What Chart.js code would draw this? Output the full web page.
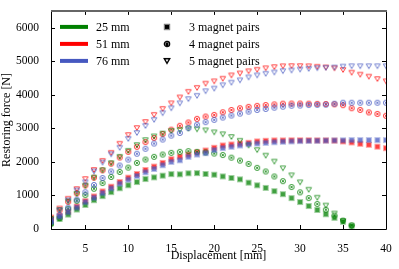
<!DOCTYPE html>
<html>
<head>
<meta charset="utf-8">
<script src="https://cdn.jsdelivr.net/npm/chart.js@4.4.0/dist/chart.umd.min.js"></script>
<style>
  html, body { margin: 0; padding: 0; background: #fff; }
  #wrap { width: 399px; height: 269px; }
</style>
</head>
<body>
<div id="wrap"><canvas id="chart1" width="399" height="269"></canvas></div>
<script>
// displacement [mm]
let displacement = [1,2,3,4,5,6,7,8,9,10,11,12,13,14,15,16,17,18,19,20,
  21,22,23,24,25,26,27,28,29,30,31,32,33,34,35,36,37,38,39,40];
let xTicks = [5, 10, 15, 20, 25, 30, 35, 40];
let yTicks = [0, 1000, 2000, 3000, 4000, 5000, 6000];

// restoring force [N], width 25 mm (stops where it hits zero)
let w25_3 = [170,300,430,580,716,860,980,1100,1215,1304,1400,1490,1540,1590,1637,1630,1660,1667,1640,1617,
  1568,1520,1479,1382,1303,1225,1127,1039,921,803,685,568,441,333,216,98];
let w25_4 = [150,320,600,840,1010,1200,1370,1550,1700,1830,1970,2070,2150,2220,2270,2300,2320,2300,2280,2250,
  2205,2126,2038,1940,1823,1715,1565,1426,1250,1092,921,745,575,400,250,110];
let w25_5 = [300,560,820,1050,1290,1530,1750,1960,2150,2330,2500,2650,2760,2843,2920,2950,2990,2970,2940,2881,
  2822,2743,2630,2490,2352,2186,2008,1810,1600,1391,1170,932,697,461,240,50];

// width 51 mm
let w51_3 = [250,400,520,670,830,970,1120,1260,1400,1530,1640,1760,1860,1970,2080,2155,2220,2290,2340,2420,
  2490,2520,2550,2570,2610,2630,2640,2640,2645,2645,2645,2640,2640,2635,2610,2580,2540,2510,2455,2410];
let w51_4 = [300,560,810,1060,1300,1530,1750,1950,2130,2300,2450,2590,2714,2830,2960,3077,3175,3283,3352,3401,
  3479,3548,3597,3640,3670,3695,3714,3735,3740,3740,3735,3730,3725,3715,3690,3600,3550,3475,3430,3375];
let w51_5 = [340,610,900,1190,1490,1760,2030,2270,2540,2800,3010,3190,3400,3580,3744,3920,4087,4205,4331,4400,
  4478,4577,4636,4700,4745,4790,4825,4850,4855,4855,4850,4835,4815,4790,4740,4660,4600,4540,4470,4400];

// width 76 mm
let w76_3 = [220,370,500,640,800,930,1070,1210,1350,1470,1580,1690,1790,1900,2000,2048,2150,2220,2260,2352,
  2411,2450,2489,2528,2548,2568,2587,2600,2610,2620,2625,2630,2635,2640,2645,2650,2650,2650,2650,2650];
let w76_4 = [216,412,637,872,1097,1313,1519,1715,1892,2068,2244,2391,2548,2666,2784,2862,3008,3107,3185,3254,
  3322,3381,3440,3499,3548,3577,3616,3646,3675,3680,3695,3700,3705,3734,3763,3763,3763,3763,3763,3763];
let w76_5 = [265,558,853,1147,1391,1715,1979,2225,2421,2685,2862,3070,3254,3450,3597,3744,3871,3969,4106,4185,
  4283,4361,4430,4518,4577,4626,4665,4704,4724,4753,4773,4792,4802,4812,4841,4851,4851,4851,4851,4851];

let green = "rgb(0,128,0)";
let red = "rgb(255,0,0)";
let blue = "rgb(70,88,192)";
let serif = "'Liberation Serif', 'Times New Roman', serif";

function marker(shape, color, alpha, big) {
  let c = document.createElement("canvas");
  c.width = 8;
  c.height = 8;
  let g = c.getContext("2d");
  g.strokeStyle = color;
  g.fillStyle = color;
  g.lineWidth = big ? 1.4 : 1;
  g.globalAlpha = alpha;
  if (shape == "s") {
    g.fillRect(2, 2, 4, 4);
    g.globalAlpha = alpha * 0.5;
    g.strokeRect(1.5, 1.5, 5, 5);
  } else if (shape == "o") {
    g.beginPath();
    g.arc(4, 4, 2.6, 0, 2 * Math.PI);
    g.stroke();
    g.beginPath();
    g.moveTo(2.6, 2.6);
    g.lineTo(5.4, 5.4);
    g.moveTo(5.4, 2.6);
    g.lineTo(2.6, 5.4);
    g.stroke();
  } else {
    g.beginPath();
    g.moveTo(1.3, 1.8);
    g.lineTo(6.7, 1.8);
    g.lineTo(4, 6.4);
    g.closePath();
    g.stroke();
  }
  return c;
}

function series(values, shape, color) {
  return {
    data: values.map((v, i) => ({ x: displacement[i], y: v })),
    pointStyle: marker(shape, color, 0.75, false),
    pointRadius: 4,
    pointHoverRadius: 4,
    showLine: false,
  };
}

let frame = {
  id: "frame",
  afterDraw(chart) {
    let ctx = chart.ctx;
    let a = chart.chartArea;
    let xs = chart.scales.x;
    let ys = chart.scales.y;
    ctx.save();
    ctx.strokeStyle = "#000";
    ctx.lineWidth = 1;
    ctx.beginPath();
    xTicks.forEach((t) => {
      let px = Math.round(xs.getPixelForValue(t)) + 0.5;
      ctx.moveTo(px, a.bottom);
      ctx.lineTo(px, a.bottom - 4);
      ctx.moveTo(px, a.top);
      ctx.lineTo(px, a.top + 4);
    });
    yTicks.forEach((t) => {
      let py = Math.round(ys.getPixelForValue(t)) + 0.5;
      ctx.moveTo(a.left, py);
      ctx.lineTo(a.left + 4, py);
      ctx.moveTo(a.right, py);
      ctx.lineTo(a.right - 4, py);
    });
    ctx.stroke();
    ctx.beginPath();
    ctx.moveTo(a.left + 0.5, a.top);
    ctx.lineTo(a.left + 0.5, a.bottom + 0.5);
    ctx.lineTo(a.right + 0.5, a.bottom + 0.5);
    ctx.lineTo(a.right + 0.5, a.top);
    ctx.stroke();
    ctx.strokeStyle = "#666";
    ctx.lineWidth = 2;
    ctx.beginPath();
    ctx.moveTo(a.left, a.top);
    ctx.lineTo(a.right + 1, a.top);
    ctx.stroke();

    // legend: widths as lines, magnet pairs as black markers
    let widths = [["25 mm", green], ["51 mm", red], ["76 mm", blue]];
    let pairs = [["3 magnet pairs", "s"], ["4 magnet pairs", "o"], ["5 magnet pairs", "v"]];
    ctx.font = "12px " + serif;
    ctx.textBaseline = "middle";
    ctx.fillStyle = "#000";
    widths.forEach(([label, color], i) => {
      let y = a.top + 16 + i * 17;
      ctx.strokeStyle = color;
      ctx.lineWidth = 4;
      ctx.beginPath();
      ctx.moveTo(a.left + 9, y);
      ctx.lineTo(a.left + 37, y);
      ctx.stroke();
      ctx.fillText(label, a.left + 45, y + 1);
    });
    pairs.forEach(([label, shape], i) => {
      let y = a.top + 16 + i * 17;
      let m = marker(shape, "#000", 1, true);
      ctx.drawImage(m, a.left + 112, y - 4);
      ctx.fillText(label, a.left + 138, y + 1);
    });
    ctx.restore();
  },
};

let config1 = {
  type: "scatter",
  data: {
    datasets: [
      series(w76_3, "s", blue),
      series(w76_4, "o", blue),
      series(w76_5, "v", blue),
      series(w25_3, "s", green),
      series(w25_4, "o", green),
      series(w25_5, "v", green),
      series(w51_3, "s", red),
      series(w51_4, "o", red),
      series(w51_5, "v", red),
    ],
  },
  options: {
    responsive: false,
    animation: false,
    layout: { padding: { left: 0, top: 6, right: 13, bottom: 0 } },
    plugins: {
      legend: { display: false },
      tooltip: { enabled: false },
    },
    scales: {
      x: {
        type: "linear",
        min: 1,
        max: 40,
        afterBuildTicks: (s) => { s.ticks = xTicks.map((v) => ({ value: v })); },
        afterFit: (s) => { s.height = 40; },
        grid: { display: false },
        border: { display: false },
        ticks: {
          color: "#000",
          padding: 5,
          maxRotation: 0,
          font: { family: serif, size: 11.5 },
          callback: (v) => String(v),
        },
        title: {
          display: true,
          text: "Displacement [mm]",
          color: "#000",
          padding: { top: 0, bottom: 6 },
          font: { family: serif, size: 12 },
        },
      },
      y: {
        type: "linear",
        min: 0,
        max: 6500,
        afterBuildTicks: (s) => { s.ticks = yTicks.map((v) => ({ value: v })); },
        afterFit: (s) => { s.width = 51; },
        grid: { display: false },
        border: { display: false },
        ticks: {
          color: "#000",
          padding: 4,
          font: { family: serif, size: 11.5 },
          callback: (v) => String(v),
        },
        title: {
          display: true,
          text: "Restoring force [N]",
          color: "#000",
          padding: { top: 0, bottom: 3 },
          font: { family: serif, size: 12 },
        },
      },
    },
  },
  plugins: [frame],
};

let chart1 = new Chart(document.getElementById("chart1").getContext("2d"), config1);
</script>
</body>
</html>
